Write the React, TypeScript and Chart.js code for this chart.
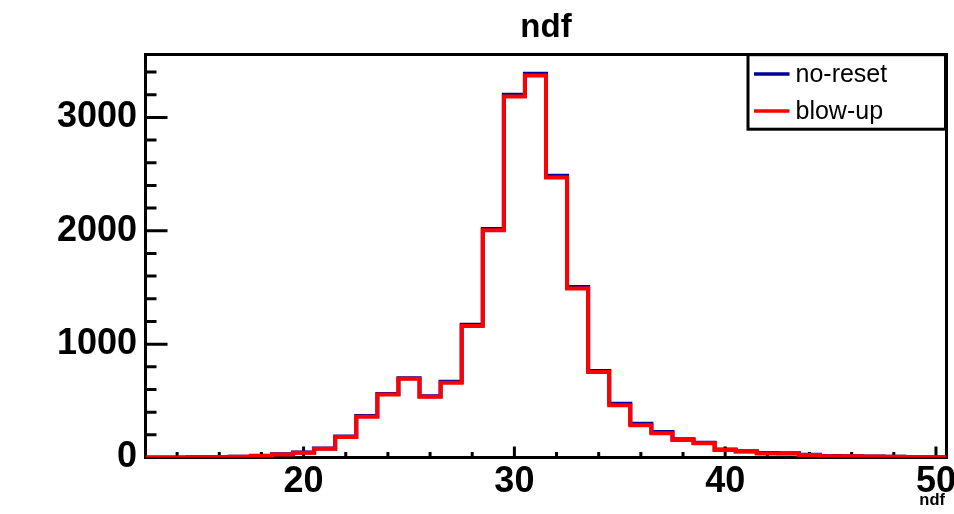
import React, { useEffect, useRef } from "react";
import { Chart, registerables } from "chart.js";

Chart.register(...registerables);

// ---- data ----
const BIN_CENTERS = [13, 14, 15, 16, 17, 18, 19, 20, 21, 22, 23, 24, 25, 26, 27, 28, 29, 30, 31, 32, 33, 34, 35, 36, 37, 38, 39, 40, 41, 42, 43, 44, 45, 46, 47, 48, 49, 50];
const NO_RESET = [0, 1, 2, 4, 6, 15, 28, 44, 80, 185, 365, 560, 700, 540, 668, 1172, 2015, 3200, 3385, 2485, 1505, 762, 475, 298, 226, 160, 130, 70, 56, 40, 38, 25, 14, 11, 9, 7, 5, 3];
const BLOW_UP = [0, 1, 2, 4, 6, 14, 26, 41, 77, 180, 360, 555, 695, 535, 660, 1160, 2005, 3185, 3370, 2470, 1490, 755, 460, 285, 215, 154, 125, 66, 52, 36, 35, 22, 12, 10, 8, 6, 5, 3];
const SERIES_NAMES = ["no-reset", "blow-up"];
const SERIES_COLORS = ["#000099", "#ff0000"];
const X_TICK_LABELS = [20, 30, 40, 50];
const Y_TICK_LABELS = [0, 1000, 2000, 3000];
const X_MINOR_STEP = 2;
const Y_MINOR_STEP = 200;
const Y_MAX = 3555;
const TITLE = "ndf";
const X_TITLE = "ndf";

const BIN_WIDTH = 1;
const FONT = "'Liberation Sans', Arial, Helvetica, sans-serif";

function histPoints(values: number[]) {
  const pts = BIN_CENTERS.map((c, i) => ({ x: c - BIN_WIDTH / 2, y: values[i] }));
  pts.push({ x: BIN_CENTERS[BIN_CENTERS.length - 1] + BIN_WIDTH / 2, y: values[values.length - 1] });
  return pts;
}

const rootAxesPlugin = {
  id: "rootAxes",
  beforeDatasetsDraw(chart: any) {
    const { ctx, chartArea: a, scales } = chart;
    const x = scales.x;
    const y = scales.y;
    ctx.save();
    ctx.strokeStyle = "#000";
    ctx.lineWidth = 3;
    ctx.strokeRect(a.left, a.top, a.right - a.left, a.bottom - a.top);
    ctx.beginPath();
    const xStart = Math.ceil(x.min / X_MINOR_STEP) * X_MINOR_STEP;
    for (let v = xStart; v <= x.max; v += X_MINOR_STEP) {
      const px = x.getPixelForValue(v);
      const len = X_TICK_LABELS.includes(v) ? 11 : 5.5;
      ctx.moveTo(px, a.bottom);
      ctx.lineTo(px, a.bottom - len);
    }
    for (let v = 0; v <= y.max; v += Y_MINOR_STEP) {
      const py = y.getPixelForValue(v);
      const len = Y_TICK_LABELS.includes(v) ? 22 : 11;
      ctx.moveTo(a.left, py);
      ctx.lineTo(a.left + len, py);
    }
    ctx.stroke();
    ctx.restore();
  },
  afterDraw(chart: any) {
    const { ctx, chartArea: a } = chart;
    ctx.save();
    // x axis title
    ctx.fillStyle = "#000";
    ctx.font = `bold 16.5px ${FONT}`;
    ctx.textAlign = "right";
    ctx.textBaseline = "alphabetic";
    ctx.fillText(X_TITLE, a.right - 1.5, 505);
    // legend box
    const bx = 748;
    const by = 54.7;
    const bw = 197.5;
    const bh = 74.5;
    ctx.fillStyle = "#fff";
    ctx.fillRect(bx, by, bw, bh);
    ctx.strokeStyle = "#000";
    ctx.lineWidth = 3;
    ctx.strokeRect(bx, by, bw, bh);
    chart.data.datasets.forEach((ds: any, i: number) => {
      const ly = 74 + i * 37;
      ctx.strokeStyle = ds.borderColor;
      ctx.lineWidth = 3.5;
      ctx.beginPath();
      ctx.moveTo(754, ly);
      ctx.lineTo(789.5, ly);
      ctx.stroke();
      ctx.fillStyle = "#000";
      ctx.font = `25px ${FONT}`;
      ctx.textAlign = "left";
      ctx.textBaseline = "alphabetic";
      ctx.fillText(ds.label, 795.5, ly + 7.8);
    });
    ctx.restore();
  },
};

export default function App() {
  const canvasRef = useRef<HTMLCanvasElement | null>(null);

  useEffect(() => {
    const canvas = canvasRef.current;
    if (!canvas) return;
    const tickFont = { family: FONT, size: 36, weight: "bold" as const };
    const chart = new Chart(canvas, {
      type: "line",
      data: {
        datasets: [NO_RESET, BLOW_UP].map((vals, i) => ({
          label: SERIES_NAMES[i],
          data: histPoints(vals),
          borderColor: SERIES_COLORS[i],
          backgroundColor: SERIES_COLORS[i],
          borderWidth: 4,
          pointRadius: 0,
          stepped: "before" as const,
          fill: false,
          tension: 0,
          // later series drawn on top (ROOT "same" overlay)
          order: SERIES_NAMES.length - 1 - i,
        })),
      },
      options: {
        responsive: false,
        animation: false,
        events: [],
        layout: { padding: { left: 0, right: 7.5, top: 0, bottom: 0 } },
        plugins: {
          legend: { display: false },
          tooltip: { enabled: false },
          title: {
            display: true,
            text: TITLE,
            fullSize: false,
            color: "#000",
            font: { family: FONT, size: 33, weight: "bold" },
            padding: { top: 8.5, bottom: 6.4 },
          },
        },
        scales: {
          x: {
            type: "linear",
            min: BIN_CENTERS[0] - BIN_WIDTH / 2,
            max: BIN_CENTERS[BIN_CENTERS.length - 1] + BIN_WIDTH / 2,
            grid: { display: false, drawTicks: false },
            border: { display: false },
            ticks: {
              font: tickFont,
              color: "#000",
              padding: 3,
              autoSkip: false,
              maxRotation: 0,
              callback: (v: any) => String(v),
            },
            afterBuildTicks: (s: any) => {
              s.ticks = X_TICK_LABELS.map((v) => ({ value: v }));
            },
            afterFit: (s: any) => {
              s.height = 56.5;
              s.paddingLeft = 0;
              s.paddingRight = 0;
            },
          },
          y: {
            type: "linear",
            min: 0,
            max: Y_MAX,
            grid: { display: false, drawTicks: false },
            border: { display: false },
            ticks: {
              font: tickFont,
              color: "#000",
              padding: 8.5,
              autoSkip: false,
              callback: (v: any) => String(v),
            },
            afterBuildTicks: (s: any) => {
              s.ticks = Y_TICK_LABELS.map((v) => ({ value: v }));
            },
            afterFit: (s: any) => {
              s.width = 145.5;
              s.paddingTop = 0;
              s.paddingBottom = 0;
            },
          },
        },
      },
      plugins: [rootAxesPlugin],
    });
    return () => chart.destroy();
  }, []);

  return (
    <div style={{ position: "absolute", left: 0, top: 0, width: 954, height: 514, background: "#fff" }}>
      <canvas ref={canvasRef} width={954} height={514} style={{ display: "block" }} />
    </div>
  );
}
